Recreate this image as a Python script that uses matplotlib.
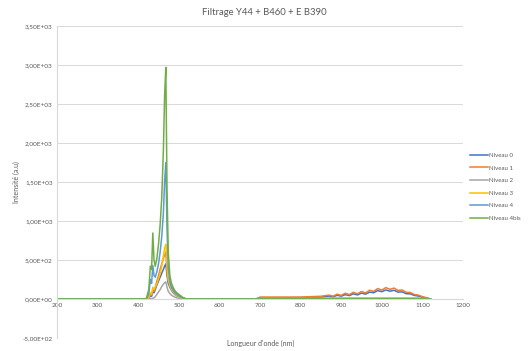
import matplotlib
matplotlib.use("Agg")
import matplotlib.pyplot as plt
from matplotlib.ticker import FuncFormatter

plt.rcParams['font.family'] = ['Lato', 'DejaVu Sans']

wl = [200, 400, 420, 426, 430, 433, 436, 439, 442, 446,
      450, 454, 458, 462, 465, 468, 471, 474, 478, 482,
      486, 490, 495, 500, 505, 510, 515, 520, 600, 690,
      700, 750, 800, 850, 870, 880, 890, 900, 910, 920,
      930, 940, 950, 960, 970, 980, 990, 1000, 1010, 1020,
      1030, 1040, 1050, 1060, 1070, 1080, 1090, 1100, 1110, 1120]

niveau0 = [0, 0, 0, 10, 40, 35, 90, 80, 120, 180,
           230, 280, 330, 380, 420, 450, 300, 200, 150, 110,
           80, 60, 40, 28, 16, 8, 3, 0, 0, 0,
           15, 15, 18, 25, 38, 28, 48, 36, 56, 44,
           66, 52, 76, 62, 88, 80, 108, 94, 116, 100,
           112, 88, 92, 68, 66, 46, 38, 22, 12, 0]

niveau1 = [0, 0, 0, 15, 60, 50, 120, 100, 150, 230,
           300, 380, 450, 520, 560, 600, 350, 250, 200, 160,
           120, 90, 60, 40, 25, 12, 5, 0, 0, 0,
           25, 25, 25, 35, 50, 36, 62, 46, 74, 56,
           86, 66, 96, 78, 112, 98, 134, 114, 146, 124,
           140, 110, 116, 86, 84, 58, 50, 30, 17, 0]

niveau2 = [0, 0, 0, 0, 5, 5, 10, 15, 30, 60,
           90, 120, 160, 190, 210, 220, 150, 100, 70, 50,
           35, 25, 15, 10, 5, 2, 0, 0, 0, 0,
           5, 5, 5, 5, 5, 5, 5, 5, 5, 5,
           5, 5, 5, 5, 5, 5, 5, 5, 5, 5,
           5, 5, 5, 5, 5, 5, 5, 5, 3, 0]

niveau3 = [0, 0, 0, 20, 80, 60, 150, 120, 150, 200,
           260, 330, 420, 550, 650, 700, 400, 250, 170, 120,
           90, 65, 45, 30, 18, 8, 3, 0, 0, 0,
           8, 8, 8, 8, 8, 8, 8, 8, 8, 8,
           8, 8, 8, 8, 8, 8, 8, 8, 8, 8,
           8, 8, 8, 8, 8, 8, 8, 6, 4, 0]

niveau4 = [0, 0, 0, 60, 250, 200, 430, 300, 280, 350,
           450, 600, 800, 1100, 1500, 1750, 900, 400, 220, 150,
           110, 80, 60, 40, 25, 12, 5, 0, 0, 0,
           8, 8, 8, 8, 8, 8, 8, 8, 8, 8,
           8, 8, 8, 8, 8, 8, 8, 8, 8, 8,
           8, 8, 8, 8, 8, 8, 8, 6, 4, 0]

niveau4bis = [0, 0, 5, 120, 420, 380, 846, 500, 420, 520,
              700, 950, 1300, 1900, 2600, 2970, 1400, 600, 300, 200,
              150, 110, 80, 60, 40, 20, 8, 0, 0, 0,
              3, 3, 3, 3, 3, 3, 3, 3, 3, 3,
              3, 3, 3, 3, 3, 3, 3, 3, 3, 3,
              3, 3, 3, 3, 3, 3, 3, 3, 2, 0]

series = [("Niveau 0", niveau0, "#4472C4"),
          ("Niveau 1", niveau1, "#ED7D31"),
          ("Niveau 2", niveau2, "#A5A5A5"),
          ("Niveau 3", niveau3, "#FFC000"),
          ("Niveau 4", niveau4, "#5B9BD5"),
          ("Niveau 4bis", niveau4bis, "#70AD47")]

fig = plt.figure(figsize=(5.31, 3.51), dpi=100)
ax = fig.add_axes([57 / 531, 13 / 351, 406 / 531, 312 / 351])

for name, vals, col in series:
    ax.plot(wl, vals, color=col, lw=1.1, label=name)

ax.set_xlim(200, 1200)
ax.set_ylim(-500, 3500)
ax.set_xticks(range(200, 1201, 100))
ax.set_yticks(range(-500, 3501, 500))


def sci_fr(v, pos):
    s = "%.2E" % v
    return s.replace(".", ",")


ax.yaxis.set_major_formatter(FuncFormatter(sci_fr))
ax.grid(axis='y', color='#D9D9D9', lw=0.7)
ax.set_axisbelow(True)
for sp in ['top', 'right']:
    ax.spines[sp].set_visible(False)
ax.spines['bottom'].set_position(('data', 0))
ax.spines['bottom'].set_color('#D9D9D9')
ax.spines['left'].set_color('#D9D9D9')
ax.tick_params(length=0, labelsize=4.6, colors='#595959', pad=3)

fig.text(0.497, 0.963, "Filtrage Y44 + B460 + E B390", ha='center', va='center',
         fontsize=6.8, color='#595959')
fig.text(0.03, 0.482, "Intensité (a.u)", rotation=90, ha='center', va='center',
         fontsize=5, color='#595959')
fig.text(0.49, 0.022, "Longueur d'onde (nm)", ha='center', va='center',
         fontsize=5, color='#595959')

leg = fig.legend(loc='upper left', bbox_to_anchor=(0.88, 0.572), frameon=False,
                 fontsize=4.4, handlelength=3.0, handletextpad=0.1,
                 labelspacing=1.2, borderaxespad=0)
for t in leg.get_texts():
    t.set_color('#595959')

fig.savefig("out.png", dpi=100)
